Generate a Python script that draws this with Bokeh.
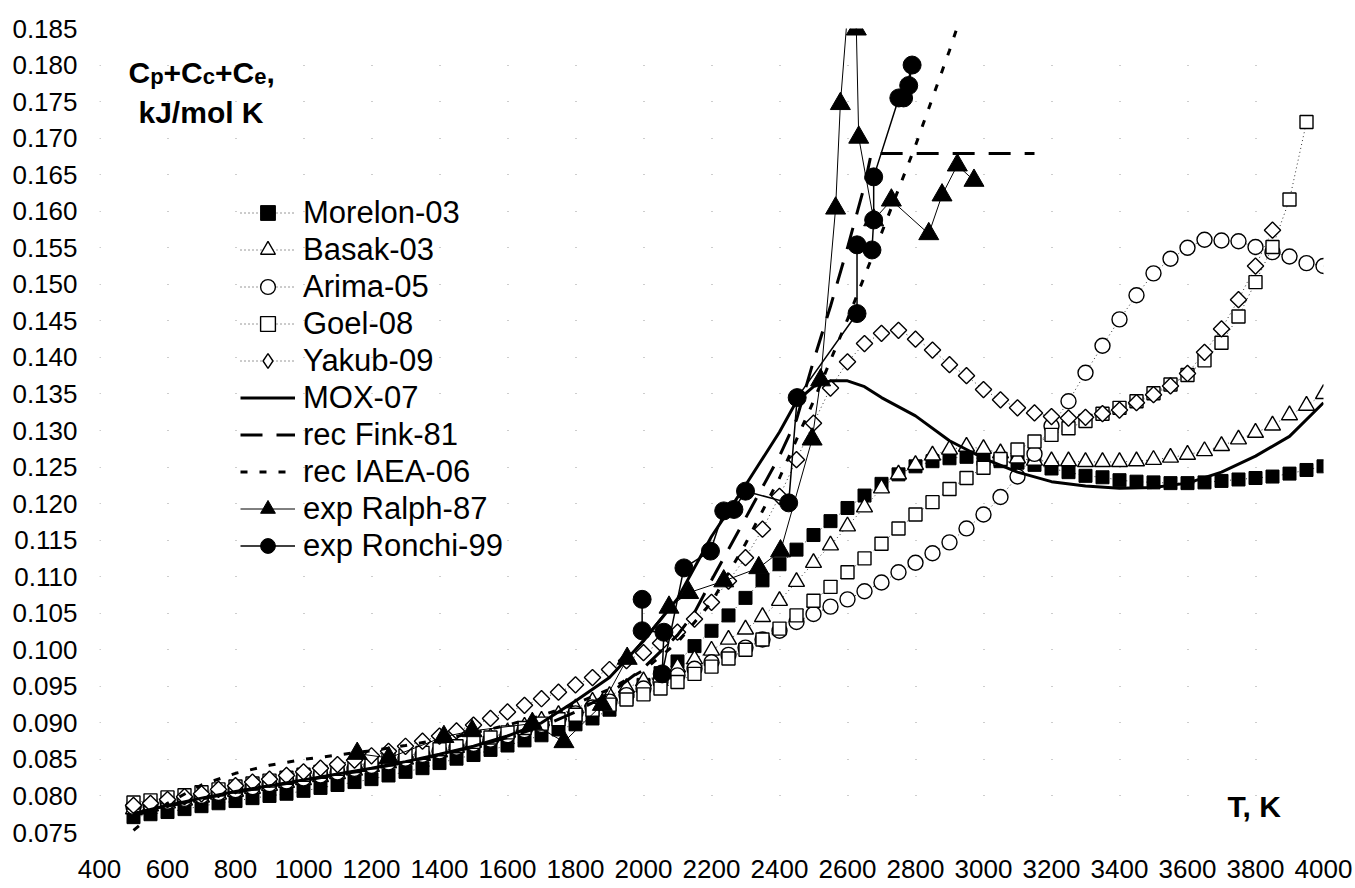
import numpy as np
from bokeh.plotting import figure
from bokeh.models import Range1d, FixedTicker, NumeralTickFormatter, Legend, LegendItem, Label
from bokeh.embed import file_html
from bokeh.resources import INLINE

# ---------------- data ----------------
T_model = list(range(500, 4001, 50))
T_goel = list(range(500, 3951, 50))
T_yakub = list(range(500, 3851, 50))

morelon = [0.0771, 0.0775, 0.0778, 0.0782, 0.0786, 0.0790, 0.0793, 0.0797, 0.0800, 0.0803,
           0.0807, 0.0811, 0.0815, 0.0819, 0.0823, 0.0828, 0.0833, 0.0838, 0.0845, 0.0851,
           0.0856, 0.0863, 0.0869, 0.0876, 0.0883, 0.0891, 0.0898, 0.0906, 0.0918, 0.0935,
           0.0952, 0.0968, 0.0984, 0.1005, 0.1026, 0.1047, 0.1071, 0.1095, 0.1117, 0.1137,
           0.1157, 0.1176, 0.1194, 0.1211, 0.1227, 0.1240, 0.1251, 0.1258, 0.1262, 0.1264,
           0.1261, 0.1258, 0.1256, 0.1253, 0.1248, 0.1243, 0.1238, 0.1236, 0.1232, 0.1230,
           0.1229, 0.1228, 0.1228, 0.1229, 0.1231, 0.1233, 0.1235, 0.1237, 0.1241, 0.1246,
           0.1251]

basak = [0.0782, 0.0786, 0.0790, 0.0794, 0.0798, 0.0802, 0.0806, 0.0810, 0.0814, 0.0818,
         0.0822, 0.0826, 0.0830, 0.0835, 0.0840, 0.0845, 0.0850, 0.0855, 0.0860, 0.0866,
         0.0873, 0.0880, 0.0887, 0.0895, 0.0903, 0.0911, 0.0920, 0.0929, 0.0937, 0.0948,
         0.0957, 0.0966, 0.0976, 0.0987, 0.0999, 0.1014, 0.1028, 0.1045, 0.1067, 0.1093,
         0.1119, 0.1143, 0.1169, 0.1195, 0.1221, 0.1240, 0.1253, 0.1266, 0.1274, 0.1278,
         0.1275, 0.1269, 0.1262, 0.1259, 0.1258, 0.1258, 0.1257, 0.1257, 0.1257, 0.1258,
         0.1260, 0.1263, 0.1267, 0.1272, 0.1279, 0.1288, 0.1297, 0.1307, 0.1321, 0.1334,
         0.1350]

arima = [0.0785, 0.0788, 0.0792, 0.0796, 0.0800, 0.0804, 0.0808, 0.0812, 0.0816, 0.0820,
         0.0824, 0.0828, 0.0832, 0.0837, 0.0841, 0.0846, 0.0851, 0.0856, 0.0861, 0.0866,
         0.0871, 0.0877, 0.0883, 0.0890, 0.0897, 0.0905, 0.0913, 0.0921, 0.0929, 0.0938,
         0.0947, 0.0956, 0.0965, 0.0974, 0.0983, 0.0993, 0.1003, 0.1014, 0.1026, 0.1038,
         0.1049, 0.1059, 0.1069, 0.1080, 0.1092, 0.1106, 0.1119, 0.1132, 0.1147, 0.1166,
         0.1185, 0.1209, 0.1237, 0.1268, 0.1306, 0.1340, 0.1379, 0.1416, 0.1452, 0.1485,
         0.1515, 0.1535, 0.1550, 0.1561, 0.1560, 0.1559, 0.1551, 0.1544, 0.1538, 0.1529,
         0.1525]

goel = [0.0791, 0.0794, 0.0798, 0.0801, 0.0805, 0.0809, 0.0813, 0.0817, 0.0821, 0.0825,
        0.0829, 0.0833, 0.0837, 0.0841, 0.0846, 0.0850, 0.0855, 0.0859, 0.0864, 0.0868,
        0.0874, 0.0880, 0.0887, 0.0893, 0.0899, 0.0905, 0.0911, 0.0918, 0.0925, 0.0932,
        0.0939, 0.0947, 0.0956, 0.0967, 0.0977, 0.0988, 0.1000, 0.1014, 0.1029, 0.1047,
        0.1067, 0.1086, 0.1106, 0.1125, 0.1145, 0.1166, 0.1185, 0.1202, 0.1220, 0.1235,
        0.1249, 0.1261, 0.1274, 0.1285, 0.1294, 0.1303, 0.1313, 0.1323, 0.1331, 0.1340,
        0.1351, 0.1363, 0.1376, 0.1396, 0.1420, 0.1456, 0.1503, 0.1551, 0.1616, 0.1722]

yakub = [0.0787, 0.0790, 0.0795, 0.0799, 0.0803, 0.0809, 0.0814, 0.0819, 0.0823, 0.0828,
         0.0833, 0.0838, 0.0843, 0.0849, 0.0855, 0.0861, 0.0868, 0.0875, 0.0882, 0.0889,
         0.0897, 0.0906, 0.0915, 0.0924, 0.0933, 0.0942, 0.0952, 0.0962, 0.0973, 0.0985,
         0.0996, 0.1009, 0.1024, 0.1042, 0.1065, 0.1094, 0.1126, 0.1165, 0.1210, 0.1260,
         0.1310, 0.1358, 0.1394, 0.1419, 0.1433, 0.1437, 0.1425, 0.1410, 0.1390, 0.1375,
         0.1356, 0.1342, 0.1331, 0.1324, 0.1319, 0.1317, 0.1318, 0.1323, 0.1328, 0.1338,
         0.1349, 0.1361, 0.1378, 0.1407, 0.1439, 0.1479, 0.1525, 0.1574]

T_mox = [500, 600, 700, 800, 900, 1000, 1100, 1200, 1300, 1400, 1500, 1600, 1700, 1800,
         1900, 2000, 2100, 2200, 2300, 2400, 2450, 2500, 2550, 2600, 2650, 2700, 2800,
         2900, 3000, 3100, 3200, 3300, 3400, 3500, 3600, 3700, 3800, 3900, 4000]
mox = [0.0776, 0.0787, 0.0797, 0.0806, 0.0814, 0.0822, 0.0830, 0.0838, 0.0847, 0.0857,
       0.0868, 0.0882, 0.0900, 0.0930, 0.0962, 0.1012, 0.1070, 0.1155, 0.1225, 0.1298,
       0.1340, 0.1360, 0.1368, 0.1368, 0.1360, 0.1345, 0.1320, 0.1286, 0.1262, 0.1243,
       0.1230, 0.1224, 0.1221, 0.1222, 0.1228, 0.1243, 0.1265, 0.1292, 0.1338]

T_fink = [500, 600, 700, 800, 900, 1000, 1100, 1200, 1300, 1400, 1500, 1600, 1700, 1800,
          1900, 2000, 2100, 2150, 2200, 2300, 2400, 2450, 2500, 2550, 2600, 2650, 2670, 3150]
fink = [0.0773, 0.0786, 0.0796, 0.0805, 0.0813, 0.0821, 0.0829, 0.0837, 0.0846, 0.0856,
        0.0867, 0.0880, 0.0895, 0.0915, 0.0940, 0.0975, 0.1020, 0.1051, 0.1095, 0.1180,
        0.1265, 0.1315, 0.1395, 0.1470, 0.1550, 0.1635, 0.1679, 0.1679]

T_iaea = [500, 550, 600, 700, 800, 900, 1000, 1100, 1200, 1300, 1400, 1500, 1600, 1700,
          1800, 1900, 2000, 2100, 2200, 2300, 2400, 2500, 2600, 2700, 2800, 2900, 2950]
iaea = [0.0753, 0.0772, 0.0790, 0.0815, 0.0831, 0.0842, 0.0850, 0.0856, 0.0862, 0.0869,
        0.0877, 0.0886, 0.0897, 0.0910, 0.0926, 0.0946, 0.0972, 0.1010, 0.1065, 0.1145,
        0.1235, 0.1340, 0.1452, 0.1570, 0.1690, 0.1820, 0.1890]

T_ralph = [1158, 1251, 1413, 1496, 1673, 1766, 1879, 1952, 2075, 2133, 2236, 2339, 2403,
           2496, 2521, 2565, 2579, 2605, 2626, 2633, 2677, 2729, 2839, 2878, 2923, 2972]
ralph = [0.0858, 0.0852, 0.0881, 0.0889, 0.0899, 0.0874, 0.0925, 0.0988, 0.1058, 0.1078,
         0.1094, 0.1112, 0.1135, 0.1288, 0.1369, 0.1604, 0.1747, 0.1900, 0.1849, 0.1701,
         0.1588, 0.1615, 0.1569, 0.1622, 0.1663, 0.1642]

T_ronchi = [1996, 1996, 2060, 2055, 2119, 2197, 2236, 2266, 2300, 2427, 2452, 2628, 2628,
            2672, 2677, 2677, 2751, 2765, 2790, 2780]
ronchi = [0.1069, 0.1026, 0.1024, 0.0967, 0.1112, 0.1135, 0.1190, 0.1192, 0.1217, 0.1201,
          0.1345, 0.1460, 0.1554, 0.1547, 0.1588, 0.1647, 0.1755, 0.1755, 0.1800, 0.1772]

x_ticks = list(range(400, 4001, 200))
y_ticks = [0.075, 0.080, 0.085, 0.090, 0.095, 0.100, 0.105, 0.110, 0.115, 0.120, 0.125,
           0.130, 0.135, 0.140, 0.145, 0.150, 0.155, 0.160, 0.165, 0.170, 0.175, 0.180, 0.185]

FONT = "Liberation Sans"

# ---------------- figure ----------------
p = figure(width=1355, height=888, output_backend="svg", toolbar_location=None,
           x_range=Range1d(400, 4000), y_range=Range1d(0.075, 0.185),
           min_border_left=99, min_border_right=32, min_border_top=28, min_border_bottom=56)
p.outline_line_color = None
p.background_fill_color = "white"
p.border_fill_color = "white"

p.xaxis.ticker = FixedTicker(ticks=x_ticks)
p.yaxis.ticker = FixedTicker(ticks=y_ticks)
p.yaxis.formatter = NumeralTickFormatter(format="0.000")
for ax in (p.xaxis, p.yaxis):
    ax.axis_line_color = None
    ax.major_tick_line_color = None
    ax.minor_tick_line_color = None
    ax.major_tick_out = 0
    ax.major_tick_in = 0
    ax.minor_tick_out = 0
    ax.major_label_text_font = FONT
    ax.major_label_text_font_size = "26px"
    ax.major_label_text_color = "black"
p.yaxis.major_label_standoff = 22
p.xaxis.major_label_standoff = 27

p.xgrid.grid_line_color = None
p.ygrid.grid_line_color = "#9a9a9a"
p.ygrid.grid_line_width = 1
p.ygrid.grid_line_dash = "1 67"

DOT = dict(line_color="#333333", line_width=1, line_dash="1 3")

l1 = p.line(T_model, morelon, **DOT)
s1 = p.scatter(T_model, morelon, marker="square", size=13, fill_color="black",
               line_color="black", line_width=1)
l2 = p.line(T_model, basak, **DOT)
s2 = p.scatter(T_model, basak, marker="triangle", size=16, fill_color="white",
               line_color="black", line_width=1.4)
l3 = p.line(T_model, arima, **DOT)
s3 = p.scatter(T_model, arima, marker="circle", size=15, fill_color="white",
               line_color="black", line_width=1.4)
l4 = p.line(T_goel, goel, **DOT)
s4 = p.scatter(T_goel, goel, marker="square", size=13, fill_color="white",
               line_color="black", line_width=1.4)
l5 = p.line(T_yakub, yakub, **DOT)
s5 = p.scatter(T_yakub, yakub, marker="square", angle=np.pi / 4, size=11.5,
               fill_color="white", line_color="black", line_width=1.4)
# legend key for the diamond symbol (hidden in the plot, drawn only in the legend)
s5_key = p.scatter(T_yakub, yakub, marker="diamond", size=18, fill_color="white",
                   line_color="black", line_width=1.4, visible=False)
l6 = p.line(T_mox, mox, line_color="black", line_width=3)
l7 = p.line(T_fink, fink, line_color="black", line_width=3, line_dash="22 14")
l8 = p.line(T_iaea, iaea, line_color="black", line_width=3, line_dash="7 12")
l9 = p.line(T_ralph, ralph, line_color="black", line_width=1)
s9 = p.scatter(T_ralph, ralph, marker="triangle", size=20, fill_color="black",
               line_color="black")
l10 = p.line(T_ronchi, ronchi, line_color="black", line_width=1.5)
s10 = p.scatter(T_ronchi, ronchi, marker="circle", size=18, fill_color="black",
                line_color="black")

legend = Legend(items=[
    LegendItem(label="Morelon-03", renderers=[l1, s1]),
    LegendItem(label="Basak-03", renderers=[l2, s2]),
    LegendItem(label="Arima-05", renderers=[l3, s3]),
    LegendItem(label="Goel-08", renderers=[l4, s4]),
    LegendItem(label="Yakub-09", renderers=[l5, s5_key]),
    LegendItem(label="MOX-07", renderers=[l6]),
    LegendItem(label="rec Fink-81", renderers=[l7]),
    LegendItem(label="rec IAEA-06", renderers=[l8]),
    LegendItem(label="exp Ralph-87", renderers=[l9, s9]),
    LegendItem(label="exp Ronchi-99", renderers=[l10, s10]),
], location=(141, 268), orientation="vertical", glyph_width=55, glyph_height=37,
   label_height=37, spacing=0, padding=0, margin=0, label_standoff=8,
   label_text_font=FONT, label_text_font_size="31px", label_text_color="black",
   border_line_color=None, background_fill_alpha=0, click_policy="none",
   inactive_fill_alpha=0)
p.add_layout(legend)


def X(px):
    return 400 + (px - 99) * 3600 / 1224


def Y(py):
    return 0.185 - (py - 28) * 0.110 / 804


title_parts = [("C", 128, 72, "30px"), ("p", 149.7, 76, "22px"), ("+", 163.1, 72, "30px"),
               ("C", 180.6, 72, "30px"), ("c", 202.3, 76, "22px"), ("+", 214.5, 72, "30px"),
               ("C", 232.0, 72, "30px"), ("e", 253.7, 76, "22px"), (",", 265.9, 72, "30px")]
for txt, px, py, fs in title_parts:
    p.add_layout(Label(x=X(px), y=Y(py), text=txt, text_font=FONT, text_font_size=fs,
                       text_font_style="bold", text_baseline="alphabetic", text_align="left",
                       text_color="black"))
p.add_layout(Label(x=X(138), y=Y(112), text="kJ/mol K", text_font=FONT, text_font_size="30px",
                   text_font_style="bold", text_baseline="alphabetic", text_align="left",
                   text_color="black"))
p.add_layout(Label(x=X(1227), y=Y(806), text="T, K", text_font=FONT, text_font_size="30px",
                   text_font_style="bold", text_baseline="alphabetic", text_align="left",
                   text_color="black"))

open("out.html", "w").write(file_html(p, INLINE))
